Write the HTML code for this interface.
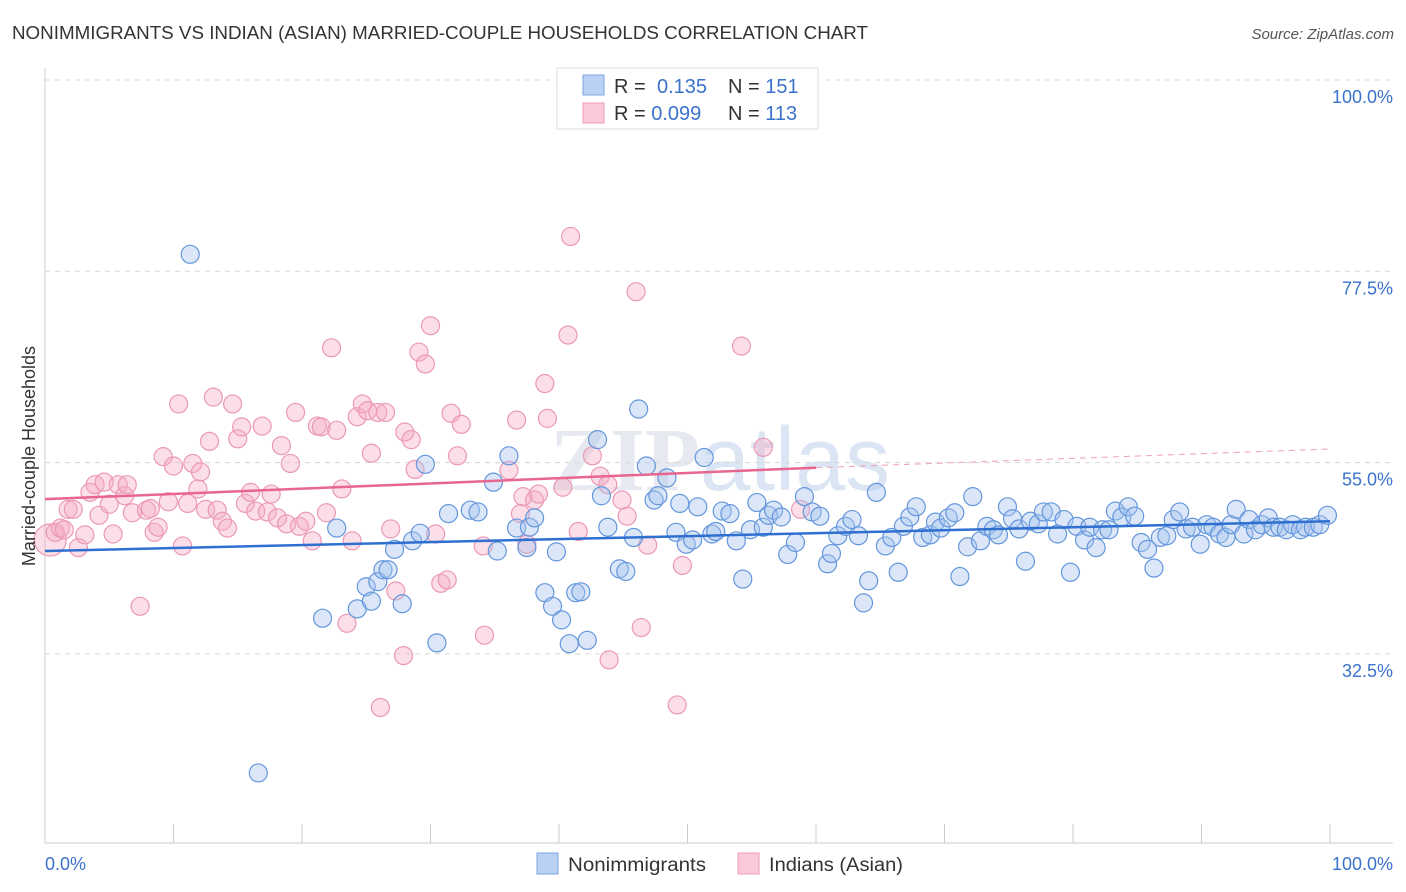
<!DOCTYPE html>
<html><head><meta charset="utf-8"><style>
body{margin:0;background:#fff;font-family:"Liberation Sans",sans-serif;}
#wrap{position:relative;width:1406px;height:892px;overflow:hidden;}
</style></head><body>
<div id="wrap">
<svg id="svg" width="1406" height="892" xmlns="http://www.w3.org/2000/svg">
<text x="12" y="39" font-size="18" fill="#333" textLength="856" lengthAdjust="spacingAndGlyphs">NONIMMIGRANTS VS INDIAN (ASIAN) MARRIED-COUPLE HOUSEHOLDS CORRELATION CHART</text>
<text x="1394" y="39" font-size="15" fill="#555" font-style="italic" text-anchor="end">Source: ZipAtlas.com</text>
<text x="720" y="490" font-size="90" fill="#e6e9ef" text-anchor="middle" font-family="Liberation Serif,serif" font-weight="bold">ZIP<tspan fill="#dbe5f3" font-family="Liberation Sans,sans-serif" font-weight="normal">atlas</tspan></text>
<g id="grid"></g>
<g id="pts"></g>
<g id="trend"></g>
<text transform="translate(35,456) rotate(-90)" font-size="18" fill="#333" text-anchor="middle">Married-couple Households</text>
<g>
<rect x="557" y="68" width="261" height="61" fill="#fff" stroke="#ddd"/>
<rect x="583" y="75" width="21" height="20" fill="#b9d1f3" stroke="#7aa5e0"/>
<rect x="583" y="103" width="21" height="20" fill="#fbc9d8" stroke="#ee9cb8"/>
<text x="614" y="93" font-size="20" fill="#333">R = <tspan x="657" fill="#3a72cc">0.135</tspan><tspan x="728" fill="#333">N = </tspan><tspan fill="#3a72cc">151</tspan></text>
<text x="614" y="120" font-size="20" fill="#333">R = <tspan fill="#3a72cc">0.099</tspan><tspan x="728" fill="#333">N = </tspan><tspan fill="#3a72cc">113</tspan></text>
</g>
<g>
<rect x="537" y="853" width="21" height="21" fill="#b9d1f3" stroke="#7aa5e0"/>
<text x="568" y="871" font-size="19" fill="#333" textLength="138" lengthAdjust="spacingAndGlyphs">Nonimmigrants</text>
<rect x="738" y="853" width="21" height="21" fill="#fbc9d8" stroke="#ee9cb8"/>
<text x="769" y="871" font-size="19" fill="#333" textLength="134" lengthAdjust="spacingAndGlyphs">Indians (Asian)</text>
</g>
</svg>
</div>
<script>
const yTicks=[100,77.5,55,32.5];
const yTickLabels=["100.0%","77.5%","55.0%","32.5%"];
const xTickVals=[0,10,20,30,40,50,60,70,80,90,100];
const blueX=[11.3,16.6,21.6,22.7,24.3,25.0,25.4,25.9,26.3,26.7,27.2,27.8,28.6,29.2,29.6,30.5,31.4,33.1,33.7,34.9,35.2,36.1,36.7,37.7,37.5,38.1,38.9,39.5,39.8,40.2,40.8,41.3,41.7,42.2,43.0,43.3,43.8,44.7,45.2,45.8,46.2,46.8,47.4,47.7,48.4,49.1,49.4,49.9,50.4,50.8,51.3,51.9,52.2,52.7,53.3,53.8,54.3,54.9,55.4,55.9,56.3,56.7,57.3,57.8,58.4,59.1,59.7,60.3,60.9,61.2,61.7,62.3,62.8,63.3,63.7,64.1,64.7,65.4,65.9,66.4,66.8,67.3,67.8,68.3,68.9,69.3,69.7,70.3,70.8,71.2,71.8,72.2,72.8,73.3,73.8,74.2,74.9,75.3,75.8,76.3,76.7,77.3,77.7,78.3,78.8,79.3,79.8,80.3,80.9,81.3,81.8,82.3,82.8,83.3,83.8,84.3,84.8,85.3,85.8,86.3,86.8,87.3,87.8,88.3,88.8,89.3,89.9,90.4,90.9,91.4,91.9,92.3,92.7,93.3,93.7,94.2,94.7,95.2,95.6,96.1,96.6,97.1,97.7,98.1,98.7,99.2,99.8];
const blueY=[79.5,18.5,36.7,47.3,37.8,40.4,38.7,41.0,42.4,42.4,44.8,38.4,45.8,46.7,54.8,33.8,49.0,49.4,49.2,52.7,44.6,55.8,47.3,47.4,45.0,48.5,39.7,38.1,44.5,36.5,33.7,39.7,39.8,34.1,57.7,51.1,47.4,42.5,42.2,46.2,61.3,54.6,50.6,51.1,53.2,46.8,50.2,45.4,45.9,49.8,55.6,46.6,46.9,49.3,49.0,45.8,41.3,47.1,50.3,47.4,48.8,49.4,48.6,44.2,45.6,51.0,49.2,48.7,43.1,44.3,46.4,47.5,48.3,46.4,38.5,41.1,51.5,45.2,46.2,42.1,47.5,48.6,49.8,46.2,46.5,48.0,47.3,48.5,49.1,41.6,45.1,51.0,45.8,47.5,47.1,46.5,49.8,48.4,47.2,43.4,48.1,47.8,49.2,49.2,46.6,48.3,42.1,47.5,45.9,47.4,45.0,47.1,47.1,49.3,48.6,49.8,48.7,45.6,44.8,42.6,46.2,46.4,48.3,49.2,47.2,47.4,45.4,47.7,47.4,46.6,46.2,47.7,49.5,46.6,48.3,47.1,47.7,48.5,47.4,47.4,47.1,47.7,47.1,47.4,47.4,47.7,48.8];
const pinkX=[0.4,0.8,1.2,1.5,1.8,2.2,2.6,3.1,3.5,3.9,4.2,4.6,5.0,5.3,5.7,6.2,6.4,6.8,7.4,7.9,8.2,8.5,8.8,9.2,9.6,10.0,10.4,10.7,11.1,11.5,11.9,12.1,12.5,12.8,13.1,13.4,13.8,14.2,14.6,15.0,15.3,15.6,16.0,16.4,16.9,17.3,17.6,18.1,18.4,18.8,19.1,19.5,19.8,20.3,20.8,21.2,21.5,21.9,22.3,22.7,23.1,23.5,23.9,24.3,24.7,25.1,25.4,25.9,26.1,26.5,26.9,27.3,27.9,28.0,28.5,28.8,29.1,29.6,30.0,30.4,30.8,31.3,31.6,32.1,32.4,34.1,34.2,36.1,36.7,37.0,37.2,37.5,38.1,38.4,38.9,39.1,40.3,40.7,40.9,41.5,42.6,43.2,43.8,43.9,44.9,45.3,46.0,46.4,46.9,49.2,49.6,54.2,55.9,58.8];
const pinkY=[45.9,46.8,47.3,47.1,49.5,49.5,45.0,46.5,51.5,52.4,48.8,52.7,50.1,46.6,52.4,51.1,52.4,49.1,38.1,49.4,49.6,46.8,47.4,55.7,50.4,54.6,61.9,45.2,50.2,54.9,51.9,53.9,49.5,57.5,62.7,49.4,48.1,47.3,61.9,57.8,59.2,50.2,51.5,49.3,59.3,49.2,51.3,48.5,57.0,47.8,54.9,60.9,47.5,48.1,45.8,59.3,59.2,49.1,68.5,58.8,51.9,36.1,45.8,60.4,61.9,61.1,56.1,60.9,26.2,60.9,47.2,39.9,32.3,58.6,57.7,54.2,68.0,66.6,71.1,46.6,40.8,41.2,60.8,55.8,59.5,45.2,34.7,54.1,60.0,49.0,51.0,45.4,50.6,51.3,64.3,60.2,52.1,70.0,81.6,46.9,55.8,53.4,52.4,31.8,50.6,48.7,75.1,35.6,45.3,26.5,42.9,68.7,56.8,49.5];
const blueTrend=[[0,44.6],[100,48.1]];
const pinkTrend=[[0,50.7],[60,54.4]];
const pinkTrendExt=[[60,54.4],[100,56.6]];
const NS="http://www.w3.org/2000/svg";
const X0=45,X1=1330,Y100=80,PXPER=191.3/22.5;
function sx(v){return X0+(X1-X0)*v/100;}
function sy(v){return Y100+(100-v)*PXPER;}
function mk(tag,attrs,parent){const e=document.createElementNS(NS,tag);for(const k in attrs)e.setAttribute(k,attrs[k]);parent.appendChild(e);return e;}
const grid=document.getElementById('grid');
yTicks.forEach((t,i)=>{
 const l=mk('line',{x1:X0,x2:1393,y1:sy(t),y2:sy(t),stroke:'#d8d8d8','stroke-dasharray':'5,5'},grid);
 
 
 const tx=mk('text',{x:1393,y:sy(t)+23,'font-size':18,fill:'#3a72cc','text-anchor':'end'},grid);
 tx.textContent=yTickLabels[i];
 
 
});
const ax=mk('line',{x1:X0,x2:X0,y1:68,y2:843,stroke:'#ccc'},grid);


const bx=mk('line',{x1:X0,x2:1393,y1:843,y2:843,stroke:'#ccc'},grid);


xTickVals.forEach(v=>{
 const t=mk('line',{x1:sx(v),x2:sx(v),y1:824,y2:843,stroke:'#ccc'},grid);
 
 
});
[[0,'0.0%','start',45],[100,'100.0%','end',1393]].forEach(a=>{
 const t=mk('text',{x:a[3],y:870,'font-size':18,fill:'#3a72cc','text-anchor':a[2]},grid);
 t.textContent=a[1];
 
 
});
const pts=document.getElementById('pts');
pinkX.forEach((x,i)=>{
 const c=mk('circle',{cx:sx(x),cy:sy(pinkY[i]),r:i===0?16:9,fill:'rgba(246,172,198,0.4)',stroke:'#eb98b6','stroke-width':1.2},pts);
 
 
});
blueX.forEach((x,i)=>{
 const c=mk('circle',{cx:sx(x),cy:sy(blueY[i]),r:9,fill:'rgba(165,196,238,0.4)',stroke:'#6496dc','stroke-width':1.2},pts);
 
 
});
const tr=document.getElementById('trend');
function line(d,col,dash,name){
 const l=mk('line',{x1:sx(d[0][0]),y1:sy(d[0][1]),x2:sx(d[1][0]),y2:sy(d[1][1]),stroke:col,'stroke-width':dash?1:2.5},tr);
 if(dash)l.setAttribute('stroke-dasharray','6,5');
 
 
}
line(blueTrend,'#2f6fd0',false,'nonimmigrants-trendline');
line(pinkTrend,'#e8668f',false,'indians-trendline');
line(pinkTrendExt,'#eea0b8',true,'indians-trendline-extension');
</script>
</body></html>
